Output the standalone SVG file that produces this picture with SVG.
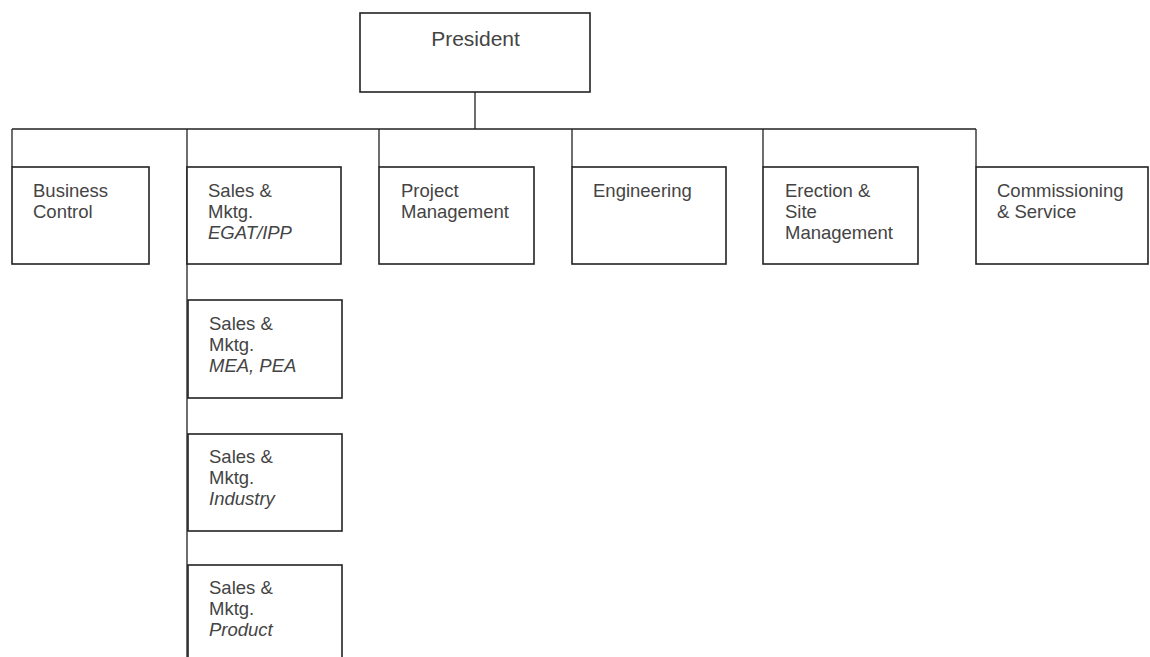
<svg xmlns="http://www.w3.org/2000/svg" width="1150" height="657" viewBox="0 0 1150 657">
<style>
.box{fill:#fff;stroke:#222;stroke-width:1.6}
.ln{fill:none;stroke:#222;stroke-width:1.3}
text{font-family:"Liberation Sans",Arial,sans-serif;font-size:18.5px;fill:#444}
.it{font-style:italic}
</style>
<rect width="1150" height="657" fill="#fff"/>
<g id="connectors">
<path class="ln" d="M475,92 V129 M12,129 H976 M12,129 V167 M187,129 V657 M379,129 V167 M572,129 V167 M763,129 V167 M976,129 V167"/>
</g>
<g id="president">
<rect class="box" x="360" y="13" width="230" height="79"/>
<text x="475.5" y="46" text-anchor="middle" style="font-size:21px">President</text>
</g>
<g id="business-control">
<rect class="box" x="12" y="167" width="137" height="97"/>
<text x="33" y="197">Business</text>
<text x="33" y="218">Control</text>
</g>
<g id="sales-egat">
<rect class="box" x="187" y="167" width="154" height="97"/>
<text x="208" y="197">Sales &amp;</text>
<text x="208" y="218">Mktg.</text>
<text x="208" y="239" class="it">EGAT/IPP</text>
</g>
<g id="project-management">
<rect class="box" x="379" y="167" width="155" height="97"/>
<text x="401" y="197">Project</text>
<text x="401" y="218">Management</text>
</g>
<g id="engineering">
<rect class="box" x="572" y="167" width="154" height="97"/>
<text x="593" y="197">Engineering</text>
</g>
<g id="erection">
<rect class="box" x="763" y="167" width="155" height="97"/>
<text x="785" y="197">Erection &amp;</text>
<text x="785" y="218">Site</text>
<text x="785" y="239">Management</text>
</g>
<g id="commissioning">
<rect class="box" x="976" y="167" width="172" height="97"/>
<text x="997" y="197">Commissioning</text>
<text x="997" y="218">&amp; Service</text>
</g>
<g id="sales-mea">
<rect class="box" x="188" y="300" width="154" height="98"/>
<text x="209" y="330">Sales &amp;</text>
<text x="209" y="351">Mktg.</text>
<text x="209" y="372" class="it">MEA, PEA</text>
</g>
<g id="sales-industry">
<rect class="box" x="188" y="434" width="154" height="97"/>
<text x="209" y="463">Sales &amp;</text>
<text x="209" y="484">Mktg.</text>
<text x="209" y="505" class="it">Industry</text>
</g>
<g id="sales-product">
<rect class="box" x="188" y="565" width="154" height="100"/>
<text x="209" y="594">Sales &amp;</text>
<text x="209" y="615">Mktg.</text>
<text x="209" y="636" class="it">Product</text>
</g>
</svg>
